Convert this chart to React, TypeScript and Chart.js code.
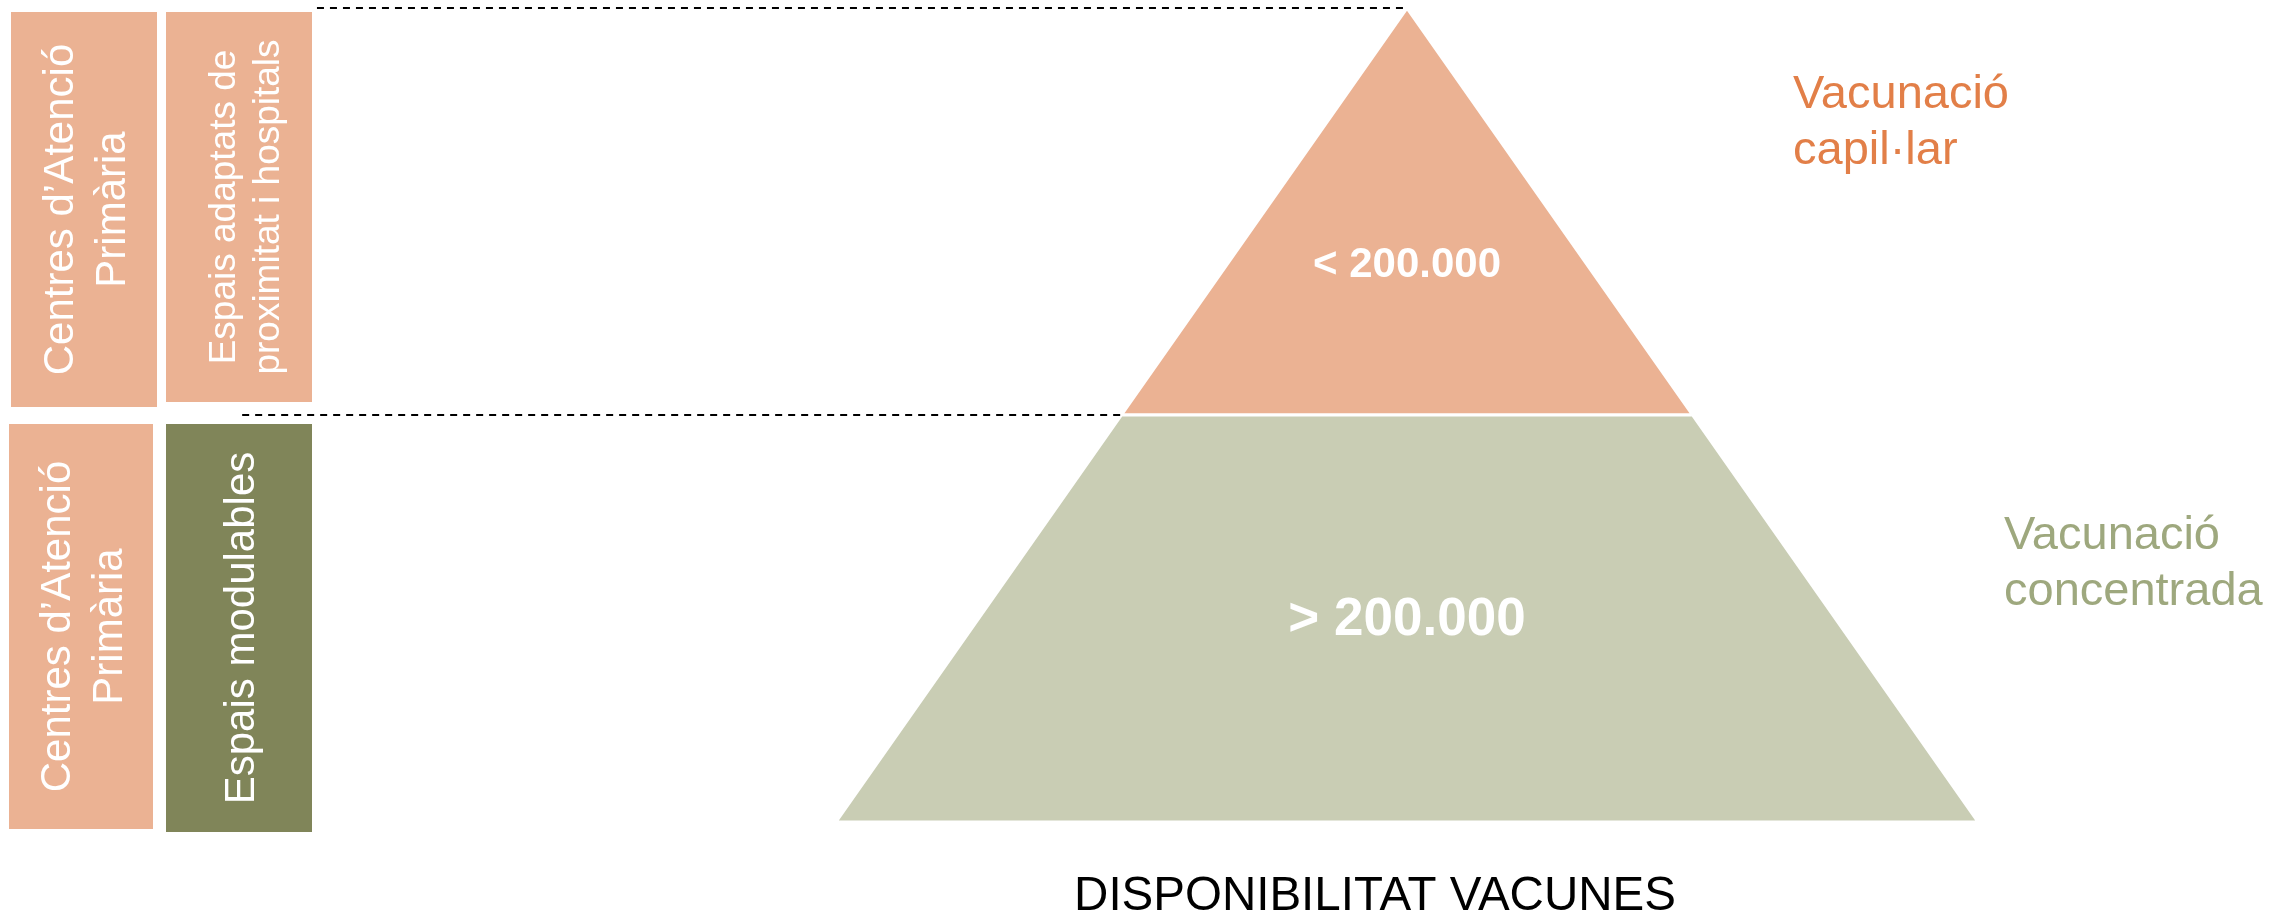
import React, { useEffect, useRef } from "react";
import { Chart, registerables } from "chart.js";

Chart.register(...registerables);

// ---------- DATA ----------
// Pyramid tiers, bottom → top (levels are tier boundaries: 0 = base, 2 = apex)
const tierNames = ["> 200.000", "< 200.000"];
const tierBounds = [0, 1, 2];
const tierColors = ["#C9CDB4", "#EBB293"];
const tierStrategies = [
  ["Vacunació", "concentrada"],
  ["Vacunació", "capil·lar"],
];
const strategyColors = ["#9EA87E", "#E27F48"];
// Left column labels per tier (bottom → top)
const primaryCareLabels = [
  ["Centres d’Atenció", "Primària"],
  ["Centres d’Atenció", "Primària"],
];
const siteLabels = [["Espais modulables"], ["Espais adaptats de", "proximitat i hospitals"]];
const siteColors = ["#808559", "#EBB293"];
const primaryCareColor = "#EBB293";
const axisTitle = "DISPONIBILITAT VACUNES";

// ---------- LAYOUT (styles / positions, not data) ----------
const FONT = "'Liberation Sans', Arial, Helvetica, sans-serif";
const W = 2295;
const H = 916;
const layout = {
  xMin: -2.4641,
  xMax: 1.5552,
  yMin: -0.231,
  yMax: 2.0197,
  tierLabelLevel: [0.506, 1.376],
  tierLabelSize: [53, 42],
  guideStartX: [-2.04, -1.909], // dashed guides at tier tops (bottom, top)
  // pixel boxes: [x, y, w, h]
  primaryBoxes: [
    [9, 424, 144, 405],
    [11, 12, 146, 395],
  ],
  siteBoxes: [
    [166, 424, 146, 408],
    [166, 12, 146, 390],
  ],
  primaryFont: 42,
  primaryGap: 52,
  siteFont: [42, 37],
  siteGap: [52, 44],
  siteShift: [0, 5],
  strategyPos: [
    [2004, 549],
    [1793, 108],
  ],
  strategyFont: 47,
  strategyGap: 56,
  titlePos: [1375, 910],
  titleFont: 47.5,
};

const halfWidth = (level: number) => 1 - level / 2;

function tierPolygon(i: number) {
  const lo = tierBounds[i];
  const hi = tierBounds[i + 1];
  const pts = [
    { x: -halfWidth(lo), y: lo },
    { x: halfWidth(lo), y: lo },
    { x: halfWidth(hi), y: hi },
    { x: -halfWidth(hi), y: hi },
  ];
  pts.push({ ...pts[0] });
  return pts;
}

function drawRotated(
  ctx: CanvasRenderingContext2D,
  lines: string[],
  cx: number,
  cy: number,
  size: number,
  gap: number
) {
  ctx.save();
  ctx.translate(cx, cy);
  ctx.rotate(-Math.PI / 2);
  ctx.font = `${size}px ${FONT}`;
  ctx.textAlign = "center";
  ctx.textBaseline = "alphabetic";
  ctx.fillStyle = "#ffffff";
  const n = lines.length;
  lines.forEach((t, k) => {
    const off = (k - (n - 1) / 2) * gap;
    ctx.fillText(t, 0, off + (size * 0.716) / 2);
  });
  ctx.restore();
}

const diagramPlugin = {
  id: "diagramPlugin",
  beforeDatasetsDraw(chart: any) {
    const ctx: CanvasRenderingContext2D = chart.ctx;
    ctx.save();
    tierNames.forEach((_, i) => {
      const [px, py, pw, ph] = layout.primaryBoxes[i];
      ctx.fillStyle = primaryCareColor;
      ctx.fillRect(px, py, pw, ph);
      drawRotated(ctx, primaryCareLabels[i], px + pw / 2, py + ph / 2, layout.primaryFont, layout.primaryGap);
      const [sx, sy, sw, sh] = layout.siteBoxes[i];
      ctx.fillStyle = siteColors[i];
      ctx.fillRect(sx, sy, sw, sh);
      drawRotated(
        ctx,
        siteLabels[i],
        sx + sw / 2 + layout.siteShift[i],
        sy + sh / 2,
        layout.siteFont[i],
        layout.siteGap[i]
      );
    });
    ctx.restore();
  },
  afterDatasetsDraw(chart: any) {
    const ctx: CanvasRenderingContext2D = chart.ctx;
    const xs = chart.scales.x;
    const ys = chart.scales.y;
    ctx.save();
    // tier labels inside pyramid
    ctx.fillStyle = "#ffffff";
    ctx.textAlign = "center";
    ctx.textBaseline = "alphabetic";
    tierNames.forEach((name, i) => {
      const size = layout.tierLabelSize[i];
      ctx.font = `bold ${size}px ${FONT}`;
      ctx.fillText(
        name,
        xs.getPixelForValue(0),
        ys.getPixelForValue(layout.tierLabelLevel[i]) + (size * 0.716) / 2
      );
    });
    // strategy labels
    ctx.textAlign = "left";
    ctx.font = `${layout.strategyFont}px ${FONT}`;
    tierStrategies.forEach((lines, i) => {
      ctx.fillStyle = strategyColors[i];
      const [x, y] = layout.strategyPos[i];
      lines.forEach((t, k) => ctx.fillText(t, x, y + k * layout.strategyGap));
    });
    // bottom title
    ctx.fillStyle = "#000000";
    ctx.textAlign = "center";
    ctx.font = `${layout.titleFont}px ${FONT}`;
    ctx.fillText(axisTitle, layout.titlePos[0], layout.titlePos[1]);
    ctx.restore();
  },
};

export default function App() {
  const ref = useRef<HTMLCanvasElement | null>(null);

  useEffect(() => {
    if (!ref.current) return;
    const tierSets = tierNames.map((name, i) => ({
      label: name,
      data: tierPolygon(i),
      showLine: true,
      fill: "shape",
      backgroundColor: tierColors[i],
      borderColor: "#ffffff",
      borderWidth: 3,
      pointRadius: 0,
      tension: 0,
      order: 2,
    }));
    const guideSets = tierNames.map((name, i) => {
      const level = tierBounds[i + 1];
      return {
        label: `guide ${name}`,
        data: [
          { x: layout.guideStartX[i], y: level },
          { x: -halfWidth(level), y: level },
        ],
        showLine: true,
        fill: false,
        borderColor: "#000000",
        borderWidth: 2,
        borderDash: [7, 6],
        pointRadius: 0,
        order: 1,
      };
    });

    const chart = new Chart(ref.current, {
      type: "scatter",
      data: { datasets: [...guideSets, ...tierSets] as any },
      options: {
        animation: false,
        responsive: false,
        maintainAspectRatio: false,
        layout: { padding: 0 },
        plugins: {
          legend: { display: false },
          tooltip: { enabled: false },
          title: { display: false },
        },
        events: [],
        scales: {
          x: { type: "linear", min: layout.xMin, max: layout.xMax, display: false },
          y: { type: "linear", min: layout.yMin, max: layout.yMax, display: false },
        },
      },
      plugins: [diagramPlugin],
    });
    return () => chart.destroy();
  }, []);

  return (
    <div style={{ position: "absolute", left: 0, top: 0, width: W, height: H, background: "#fff" }}>
      <canvas ref={ref} width={W} height={H} style={{ display: "block", width: W, height: H }} />
    </div>
  );
}
